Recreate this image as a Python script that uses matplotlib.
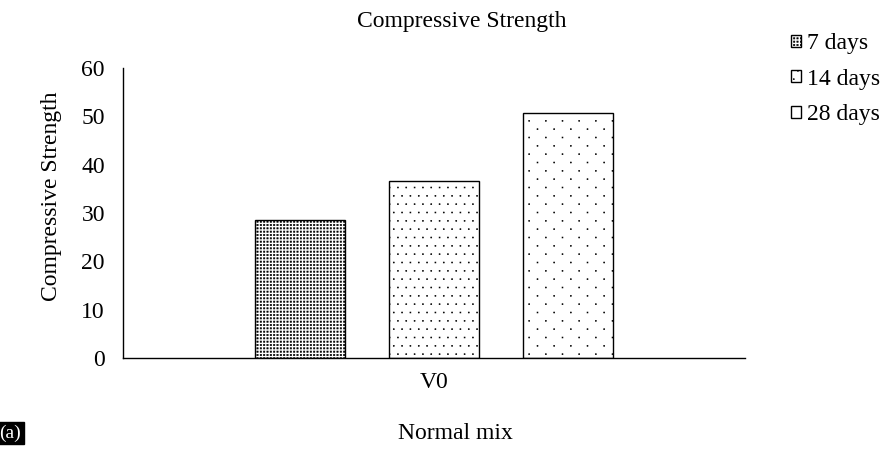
import matplotlib
matplotlib.use("Agg")
import numpy as np
import matplotlib.pyplot as plt
import matplotlib.hatch as mhatch
from matplotlib.path import Path

plt.rcParams['font.family'] = ['Liberation Serif', 'DejaVu Serif']
plt.rcParams['hatch.linewidth'] = 0.4

categories = ["V0"]
series = ["7 days", "14 days", "28 days"]
values = [28.6, 36.6, 50.7]
hatches = ["...", "..", "."]
yticks = [0, 10, 20, 30, 40, 50, 60]

# dot grids per hatch unit (1 inch): (columns, rows, stagger, half-size)
DOT_STYLES = {3: (30, 30, False, 0.0068), 2: (12, 12, True, 0.005), 1: (6, 12, True, 0.005)}


class DotGrid(mhatch.HatchPatternBase):
    def __init__(self, hatch, density):
        k = hatch.count('.')
        self.centers = []
        if k in DOT_STYLES:
            nc, nr, stag, self.hs = DOT_STYLES[k]
            for j in range(nr):
                for i in range(nc):
                    x = (i + 0.25) / nc
                    if stag and j % 2 == 1:
                        x += 0.5 / nc
                    y = (j + 0.5) / nr
                    self.centers.append((x % 1.0, y))
        self.num_vertices = len(self.centers) * 5

    def set_vertices_and_codes(self, vertices, codes):
        h = self.hs
        sq = np.array([[-h, -h], [h, -h], [h, h], [-h, h], [-h, -h]])
        for n, (cx, cy) in enumerate(self.centers):
            vertices[n * 5:(n + 1) * 5] = sq + [cx, cy]
            codes[n * 5:(n + 1) * 5] = [Path.MOVETO, Path.LINETO, Path.LINETO,
                                        Path.LINETO, Path.CLOSEPOLY]


mhatch._hatch_types = [t for t in mhatch._hatch_types
                       if t is not mhatch.SmallFilledCircles] + [DotGrid]

fig = plt.figure(figsize=(8.82, 4.54), dpi=100)
ax = fig.add_axes([0.1395, 0.2115, 0.7052, 0.6385])

width = 0.1447
step = 0.2154
for i, (s, v, h) in enumerate(zip(series, values, hatches)):
    off = (i - 1) * step
    ax.bar(0 + off, v, width=width, facecolor='white', edgecolor='black',
           hatch=h, linewidth=1.0, label=s)

ax.set_xlim(-0.5, 0.5)
ax.set_ylim(0, 60)
ax.set_yticks(yticks)
ax.set_xticks([0])
ax.set_xticklabels(categories)
ax.tick_params(axis='both', length=0, labelsize=17)
ax.tick_params(axis='y', pad=13)
ax.tick_params(axis='x', pad=10)
for sp in ['top', 'right']:
    ax.spines[sp].set_visible(False)
ax.spines['left'].set_linewidth(1.0)
ax.spines['bottom'].set_linewidth(1.0)

fig.text(0.058, 0.567, "Compressive Strength", rotation=90, ha='center', va='center', fontsize=17)
fig.text(0.523, 0.953, "Compressive Strength", ha='center', va='center', fontsize=17)
fig.text(0.516, 0.046, "Normal mix", ha='center', va='center', fontsize=17)
fig.text(0.0113, 0.046, "(a)", ha='center', va='center', fontsize=14, color='white',
         bbox=dict(facecolor='black', edgecolor='black', pad=2))

leg = ax.legend(loc='upper left', bbox_to_anchor=(0.897, 0.927), bbox_transform=fig.transFigure,
                frameon=False, fontsize=17, handlelength=0.42, handleheight=0.42,
                handletextpad=0.25, labelspacing=0.62, borderpad=0, borderaxespad=0)

fig.savefig("out.png", dpi=100)
